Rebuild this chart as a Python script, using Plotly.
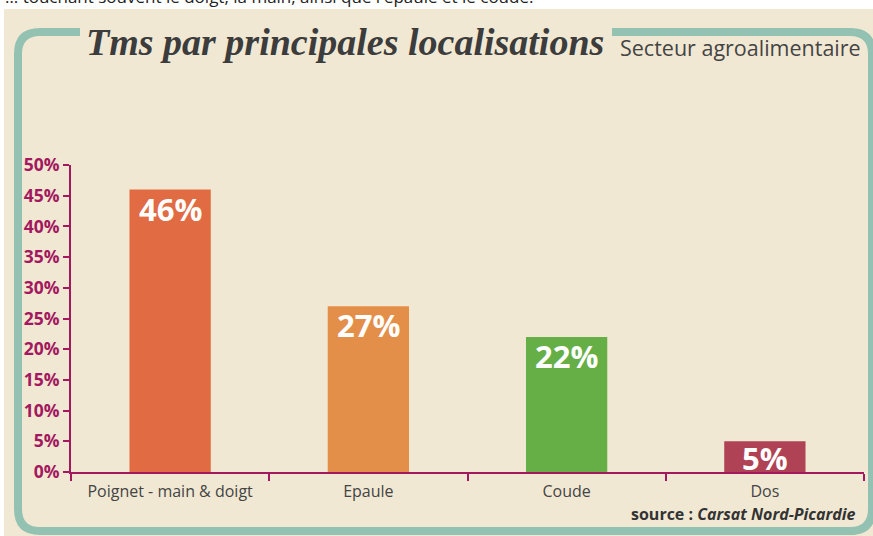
import plotly.graph_objects as go

categories = ["Poignet - main & doigt", "Epaule", "Coude", "Dos"]
values = [46, 27, 22, 5]
bar_colors = ["#E16B43", "#E38F4A", "#66AE46", "#B04256"]
y_ticks = [0, 5, 10, 15, 20, 25, 30, 35, 40, 45, 50]
y_tick_labels = [f"{v}%" for v in y_ticks]
bar_labels = [f"{v}%" for v in values]

W, H = 873, 536
L, R = 71, 864   # plot area px
T, B = 165, 472
Y_MAX = 50
PX_PER_UNIT = (B - T) / Y_MAX

def px(x, y):
    return (x - L) / (R - L), (B - y) / (B - T)

PURPLE = "#A3185E"
BEIGE = "#F1E8D4"
TEAL = "#93C2B2"

fig = go.Figure(go.Bar(
    x=categories, y=values,
    marker=dict(color=bar_colors, line=dict(width=0)),
    width=0.41,
    hoverinfo="skip",
))

shapes = []
x0, y0 = px(4, 9)
x1, y1 = px(875, 540)
shapes.append(dict(type="rect", xref="paper", yref="paper", x0=x0, y0=y0, x1=x1, y1=y1,
                   fillcolor=BEIGE, line=dict(width=0), layer="below"))

pts = [("M", (80, 32)), ("L", (40, 32)), ("Q", (18, 32), (18, 54)), ("L", (18, 509)),
       ("Q", (18, 531), (40, 531)), ("L", (850, 531)), ("Q", (872, 531), (872, 509)),
       ("L", (872, 54)), ("Q", (872, 32), (850, 32)), ("L", (612, 32))]
path = ""
for p in pts:
    cmd = p[0]
    coords = " ".join("%.5f,%.5f" % px(*c) for c in p[1:])
    path += cmd + coords + " "
shapes.append(dict(type="path", xref="paper", yref="paper", path=path,
                   line=dict(color=TEAL, width=8), layer="below"))

ann = []
def add(text, x, y, xanchor, size, color, family="Open Sans", yanchor="middle", **kw):
    xp, yp = px(x, y)
    ann.append(dict(text=text, x=xp, y=yp, xref="paper", yref="paper", showarrow=False,
                    xanchor=xanchor, yanchor=yanchor,
                    font=dict(family=family, size=size, color=color, **kw)))

add("… touchant souvent le doigt, la main, ainsi que l'épaule et le coude.", 3, -4, "left", 17, "#222")
add("<b><i>Tms par principales localisations</i></b>", 84, 42, "left", 38, "#3C3C3C",
    family="Liberation Serif")
add("Secteur agroalimentaire", 863, 47, "right", 21.5, "#444")
add("<b>source : <i>Carsat Nord-Picardie</i></b>", 858, 514, "right", 16, "#333")

# value labels inside bars, near the top
for cat, v, lab in zip(categories, values, bar_labels):
    shift = -min(19, v * PX_PER_UNIT / 2 + 1)
    ann.append(dict(text=lab, x=cat, y=v, xref="x", yref="y", showarrow=False,
                    xanchor="center", yanchor="middle", yshift=shift,
                    font=dict(family="Open Sans", size=31, color="white", weight="bold")))

fig.update_layout(
    width=W, height=H,
    margin=dict(l=L, r=W - R, t=T, b=H - B, pad=0),
    paper_bgcolor="white",
    plot_bgcolor="rgba(0,0,0,0)",
    showlegend=False,
    shapes=shapes,
    annotations=ann,
    xaxis=dict(showline=True, linecolor=PURPLE, linewidth=2, ticks="outside",
               tickson="boundaries", ticklen=7, tickwidth=2, tickcolor=PURPLE,
               ticklabelstandoff=4,
               showgrid=False, tickfont=dict(family="Open Sans", size=16, color="#444")),
    yaxis=dict(range=[0, Y_MAX], tickvals=y_ticks, ticktext=y_tick_labels, showline=True,
               linecolor=PURPLE, linewidth=2, ticks="outside", ticklen=6, tickwidth=2,
               tickcolor=PURPLE, showgrid=False, zeroline=False,
               tickfont=dict(family="Open Sans", size=17.5, color=PURPLE, weight="bold")),
)

fig.write_html("out.html", config={"displayModeBar": False},
               post_script="document.body.style.margin='0';document.body.style.overflow='hidden';")
